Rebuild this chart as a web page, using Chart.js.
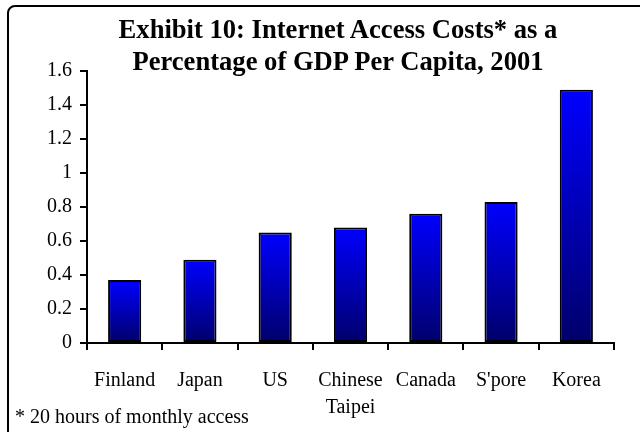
<!DOCTYPE html>
<html>
<head>
<meta charset="utf-8">
<script src="https://cdn.jsdelivr.net/npm/chart.js@4"></script>
<style>
html,body{margin:0;padding:0;background:#fff;overflow:hidden}
#wrap{position:relative;width:640px;height:432px;overflow:hidden}
#frame{position:absolute;left:7px;top:5px;width:700px;height:500px;border:2px solid #000;border-radius:8px;box-sizing:border-box}
#c{position:absolute;left:0;top:0}
#title{position:absolute;left:88px;width:500px;top:13px;text-align:center;font:bold 26.6px/32px "Liberation Serif","Times New Roman",serif;color:#000;white-space:nowrap}
#note{position:absolute;left:15px;top:404px;font:20px/24px "Liberation Serif","Times New Roman",serif;color:#000;white-space:nowrap}
</style>
</head>
<body>
<div id="wrap">
  <div id="frame"></div>
  <canvas id="c" width="640" height="432"></canvas>
  <div id="title">Exhibit 10: Internet Access Costs* as a<br>Percentage of GDP Per Capita, 2001</div>
  <div id="note">* 20 hours of monthly access</div>
</div>
<script>
const categories = ['Finland', 'Japan', 'US', ['Chinese', 'Taipei'], 'Canada', "S'pore", 'Korea'];
const costPercent = [0.37, 0.49, 0.65, 0.68, 0.76, 0.83, 1.49];
const yTicks = [0, 0.2, 0.4, 0.6, 0.8, 1, 1.2, 1.4, 1.6];

const FONT = '"Liberation Serif", "Times New Roman", serif';

function barGradient(ctx) {
  const chart = ctx.chart;
  const area = chart.chartArea;
  if (!area || ctx.raw == null) return '#0000ff';
  const y = chart.scales.y;
  const top = y.getPixelForValue(ctx.raw);
  const base = y.getPixelForValue(0);
  const g = chart.ctx.createLinearGradient(0, top, 0, base);
  g.addColorStop(0, '#0000ff');
  g.addColorStop(1, '#00006a');
  return g;
}

new Chart(document.getElementById('c'), {
  type: 'bar',
  data: {
    labels: categories,
    datasets: [{
      data: costPercent,
      backgroundColor: barGradient,
      borderColor: '#000',
      borderWidth: 2,
      borderSkipped: false,
      barPercentage: 0.44,
      categoryPercentage: 1
    }]
  },
  options: {
    responsive: false,
    devicePixelRatio: 1,
    animation: false,
    layout: { padding: { top: 71, right: 26, left: 0, bottom: 0 } },
    plugins: { legend: { display: false }, tooltip: { enabled: false }, title: { display: false } },
    scales: {
      x: {
        type: 'category',
        offset: true,
        grid: { display: true, drawOnChartArea: false, drawTicks: true, tickLength: 7, color: '#000', lineWidth: 2, offset: true },
        border: { display: true, color: '#000', width: 2 },
        ticks: { color: '#000', font: { family: FONT, size: 20, lineHeight: 1.35 }, padding: 17, maxRotation: 0, autoSkip: false },
        afterFit: s => { s.height = 89; }
      },
      y: {
        min: 0,
        max: 1.6,
        afterBuildTicks: s => { s.ticks = yTicks.map(v => ({ value: v })); },
        grid: { display: true, drawOnChartArea: false, drawTicks: true, tickLength: 7, color: '#000', lineWidth: 2 },
        border: { display: true, color: '#000', width: 2 },
        ticks: { color: '#000', font: { family: FONT, size: 20 }, padding: 8, callback: v => String(v) },
        afterFit: s => { s.width = 87; }
      }
    }
  }
});
</script>
</body>
</html>
